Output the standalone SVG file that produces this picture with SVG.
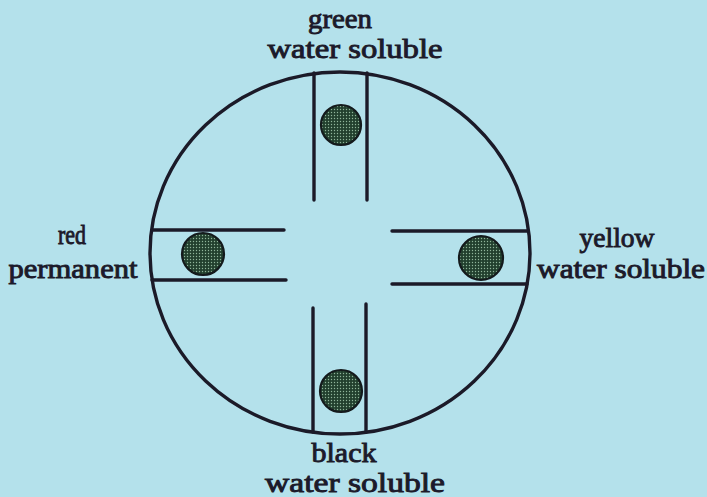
<svg xmlns="http://www.w3.org/2000/svg" width="707" height="497" viewBox="0 0 707 497">
<defs>
<pattern id="dots" width="3" height="3" patternUnits="userSpaceOnUse">
<rect width="3" height="3" fill="#22402e"/>
<circle cx="1.5" cy="1.5" r="0.7" fill="#8fb59a"/>
</pattern>
<style>
.ln{stroke:#1b1a28;stroke-width:3.4;fill:none;stroke-linecap:round}
.dot{fill:url(#dots);stroke:#141a1c;stroke-width:2.2}
.lbl{font-family:'Liberation Serif','DejaVu Serif',serif;font-size:27px;fill:#1c1a2a;stroke:#1c1a2a;stroke-width:0.9;text-anchor:middle}
</style>
</defs>
<rect width="707" height="497" fill="#b4e1eb"/>
<g id="connectors">
<ellipse class="ln" cx="340" cy="253" rx="190" ry="181"/>
</g>
<g id="green">
<line class="ln" x1="314" y1="73" x2="314" y2="200"/>
<line class="ln" x1="367" y1="73" x2="367" y2="200"/>
<circle class="dot" cx="341" cy="125" r="20"/>
<text class="lbl" x="340" y="28" textLength="64" lengthAdjust="spacingAndGlyphs">green</text>
<text class="lbl" x="355" y="58" textLength="175" lengthAdjust="spacingAndGlyphs">water soluble</text>
</g>
<g id="red">
<line class="ln" x1="152" y1="230" x2="284" y2="230"/>
<line class="ln" x1="152" y1="280" x2="286" y2="280"/>
<circle class="dot" cx="203" cy="254" r="21"/>
<text class="lbl" x="72" y="244" textLength="28" lengthAdjust="spacingAndGlyphs">red</text>
<text class="lbl" x="73" y="278" textLength="129" lengthAdjust="spacingAndGlyphs">permanent</text>
</g>
<g id="yellow">
<line class="ln" x1="392" y1="231" x2="527" y2="231"/>
<line class="ln" x1="392" y1="284" x2="527" y2="284"/>
<circle class="dot" cx="481" cy="258" r="22"/>
<text class="lbl" x="617" y="247" textLength="75" lengthAdjust="spacingAndGlyphs">yellow</text>
<text class="lbl" x="621" y="278" textLength="168" lengthAdjust="spacingAndGlyphs">water soluble</text>
</g>
<g id="black">
<line class="ln" x1="313" y1="308" x2="313" y2="432"/>
<line class="ln" x1="366" y1="304" x2="366" y2="432"/>
<circle class="dot" cx="341" cy="391" r="21"/>
<text class="lbl" x="344" y="462" textLength="65" lengthAdjust="spacingAndGlyphs">black</text>
<text class="lbl" x="355" y="492" textLength="180" lengthAdjust="spacingAndGlyphs">water soluble</text>
</g>
</svg>
